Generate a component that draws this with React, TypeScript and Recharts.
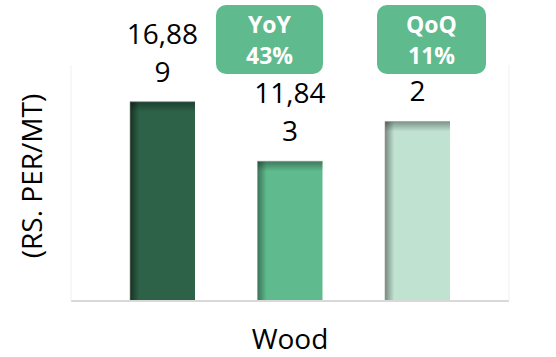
import React from 'react'
import { BarChart, Bar, XAxis, YAxis, LabelList } from 'recharts'

const categories = ['Wood']
const seriesNames = ['Current', 'Year ago', 'Previous quarter']
const currentValues = [16889]
const yearAgoValues = [11843]
const prevQuarterValues = [15212]
const seriesColors = ['#2d6148', '#5fba8d', '#c0e2d1']
const edgeColors = ['#163222', '#3b7458', '#77887f']
const badgeTitles = ['YoY', 'QoQ']
const badgeValues = ['43%', '11%']

const data = categories.map((c, i) => ({
  category: c,
  s0: currentValues[i],
  s1: yearAgoValues[i],
  s2: prevQuarterValues[i],
}))

const FONT = '"Open Sans", sans-serif'

function makeShape(idx: number) {
  return function ShadedBar(props: any) {
    const { x, y, width, height } = props
    if (!height || height <= 0) return null
    return (
      <g>
        <rect x={x} y={y} width={width} height={height} fill={`url(#side-${idx})`} />
        <rect x={x} y={y} width={width} height={Math.min(10, height)} fill="url(#topShade)" />
        <line x1={x} y1={y} x2={x + width} y2={y} stroke="#9a9a9a" strokeOpacity={0.6} />
        <line x1={x} y1={y} x2={x} y2={y + height} stroke="#9a9a9a" strokeOpacity={0.6} />
      </g>
    )
  }
}

function WrappedLabel(props: any) {
  const { x, y, width, value } = props
  const s = Number(value).toLocaleString('en-US')
  const lines = [s.slice(0, 5), s.slice(5)].filter((l) => l.length > 0)
  const cx = x + width / 2
  const lastBase = y - 20
  return (
    <g>
      {lines.map((l, i) => (
        <text
          key={i}
          x={cx}
          y={lastBase - (lines.length - 1 - i) * 38}
          textAnchor="middle"
          fontFamily={FONT}
          fontSize={28}
          fill="#000"
        >
          {l}
        </text>
      ))}
    </g>
  )
}

function YLabel(props: any) {
  const { viewBox } = props
  const cx = viewBox.x + 31
  const cy = viewBox.y + viewBox.height / 2 - 7
  return (
    <text
      x={cx}
      y={cy}
      transform={`rotate(-90, ${cx}, ${cy})`}
      textAnchor="middle"
      dominantBaseline="central"
      fontFamily={FONT}
      fontSize={28}
      fill="#000"
    >
      (RS. PER/MT)
    </text>
  )
}

const badgeBoxes = [
  { left: 216, width: 107 },
  { left: 377, width: 109 },
]

export default function App() {
  return (
    <div style={{ position: 'relative', width: 556, height: 357, background: '#fff' }}>
      <style>{`body{margin:0}`}</style>
      <BarChart
        width={556}
        height={357}
        data={data}
        margin={{ top: 65, right: 0, bottom: 0, left: 0 }}
        barSize={65}
        barGap={62.5}
      >
        <defs>
          {seriesColors.map((c, i) => (
            <linearGradient key={i} id={`side-${i}`} x1="0" y1="0" x2="1" y2="0">
              <stop offset="0%" stopColor={edgeColors[i]} />
              <stop offset="14%" stopColor={c} />
              <stop offset="100%" stopColor={c} />
            </linearGradient>
          ))}
          <linearGradient id="topShade" x1="0" y1="0" x2="0" y2="1">
            <stop offset="0%" stopColor="#000" stopOpacity={0.35} />
            <stop offset="100%" stopColor="#000" stopOpacity={0} />
          </linearGradient>
        </defs>
        <XAxis
          dataKey="category"
          height={56}
          axisLine={{ stroke: '#d9d9d9', strokeWidth: 2 }}
          tickLine={false}
          tickMargin={22}
          tick={{ fontSize: 28, fill: '#000', fontFamily: FONT }}
        />
        <YAxis
          width={71}
          domain={[0, 20000]}
          tick={false}
          tickLine={false}
          axisLine={{ stroke: '#f0f0f0' }}
          label={<YLabel />}
        />
        <YAxis
          yAxisId="right"
          orientation="right"
          width={47}
          domain={[0, 20000]}
          tick={false}
          tickLine={false}
          axisLine={{ stroke: '#f0f0f0' }}
        />
        {seriesNames.map((name, i) => (
          <Bar
            key={name}
            name={name}
            dataKey={`s${i}`}
            fill={seriesColors[i]}
            shape={makeShape(i)}
            isAnimationActive={false}
          >
            <LabelList dataKey={`s${i}`} content={<WrappedLabel />} />
          </Bar>
        ))}
      </BarChart>
      {badgeTitles.map((t, i) => (
        <div
          key={t}
          style={{
            position: 'absolute',
            left: badgeBoxes[i].left,
            top: 5,
            width: badgeBoxes[i].width,
            height: 69,
            borderRadius: 10,
            background: '#5fba8d',
            color: '#fff',
            fontFamily: FONT,
            fontWeight: 700,
            fontSize: 23,
            lineHeight: '31px',
            display: 'flex',
            flexDirection: 'column',
            alignItems: 'center',
            justifyContent: 'center',
          }}
        >
          <div>{t}</div>
          <div>{badgeValues[i]}</div>
        </div>
      ))}
    </div>
  )
}
